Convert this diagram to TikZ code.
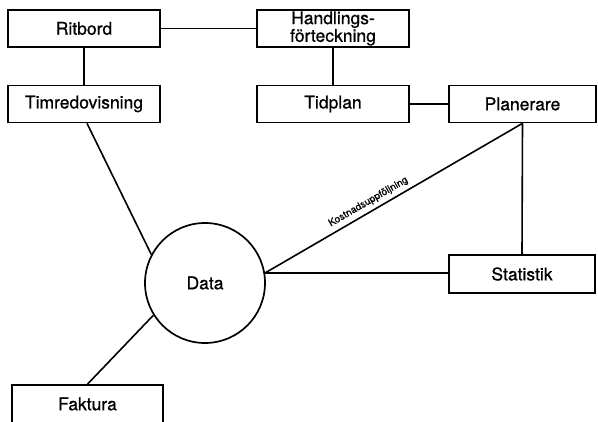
\documentclass[tikz,border=0pt]{standalone}
\usepackage{fontspec}
\setmainfont{TeX Gyre Heros}[FakeBold=0.8]
\begin{document}
\begin{tikzpicture}[x=1pt,y=-1pt,
  box/.style={draw, line width=1.7pt, minimum width=152pt, minimum height=37pt, inner sep=0pt, align=center, font=\fontsize{17.5}{15.5}\selectfont},
  conn/.style={line width=1.6pt},
  lbl/.style={font=\fontsize{10}{11}\selectfont, inner sep=1pt}]
\useasboundingbox (0,0) rectangle (598,422);
\clip (0,0) rectangle (598,422);
\node[box] (rit) at (84,28.5) {Ritbord};
\node[box] (hand) at (333,28.5) {Handlings-\\förteckning};
\node[box] (tim) at (84,104) {Timredovisning};
\node[box] (tid) at (333,104) {Tidplan};
\node[box, minimum width=147pt] (plan) at (522.5,104) {Planerare};
\node[box, minimum width=146pt, minimum height=38pt] (stat) at (522,274) {Statistik};
\node[box, minimum width=151pt, minimum height=38pt] (fak) at (87.5,404) {Faktura};
\node[draw, circle, line width=1.7pt, minimum size=120pt, inner sep=0pt, font=\fontsize{17.5}{18}\selectfont] (data) at (205,283) {Data};
\coordinate (dR) at (265,273);
\draw[conn] (rit) -- (hand);
\draw[conn] (rit) -- (tim);
\draw[conn] (hand) -- (tid);
\draw[conn] (tid) -- (plan);
\draw[conn] (plan.south) -- (stat.north);
\draw[conn] (tim.south) ++(3,0) coordinate (t1) -- (data.152);
\draw[conn] (data.212) -- (fak.north);
\draw[conn] (dR) -- (plan.south) node[lbl, pos=0.42, above, sloped, yshift=3pt] {Kostnadsuppföljning};
\draw[conn] (dR) -- (stat.west |- dR);
\end{tikzpicture}
\end{document}
